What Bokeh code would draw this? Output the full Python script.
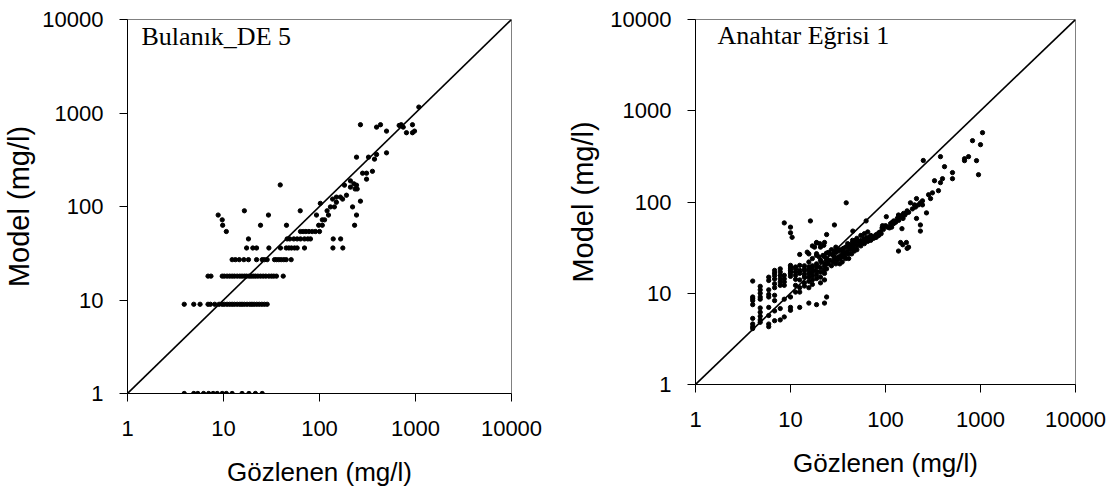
from bokeh.plotting import figure
from bokeh.layouts import row
from bokeh.models import FixedTicker, NumeralTickFormatter, Label
from bokeh.embed import file_html
from bokeh.resources import INLINE

tick_values = [1, 10, 100, 1000, 10000]
x_label = "Gözlenen (mg/l)"
y_label = "Model (mg/l)"
left_title = "Bulanık_DE 5"
right_title = "Anahtar Eğrisi 1"
diag = [1, 10000]

# ---------- Left chart: Bulanık_DE 5 (discrete model levels) ----------
lvl1_obs = [3.9, 4.9, 5.4, 6.2, 7.0, 7.8, 8.6, 9.7, 10.7, 12.3, 15.6, 18.4, 21.5, 25.3]
lvl9_obs = [3.9, 4.9, 5.7, 6.9, 7.3, 8.1, 9.0, 9.7, 10.2, 10.9, 11.6, 12.3, 13.0, 13.9,
            14.8, 15.6, 16.5, 17.6, 18.8, 19.8, 20.9, 22.2, 23.6, 25.1, 26.7, 28.5]
lvl18_obs = [6.9, 7.4, 9.7, 10.2, 10.9, 11.6, 12.3, 13.0, 13.9, 14.8, 15.6, 16.5, 17.4,
             18.5, 19.4, 20.4, 21.5, 22.8, 24.3, 25.9, 27.6, 29.7, 31.6, 33.4, 35.6, 41.9]
lvl27_obs = [12.3, 13.3, 14.6, 16.3, 18.2, 22.1, 25.3, 26.7, 28.5, 34.0, 35.6, 37.7, 39.9,
             42.5, 45.0, 50.7]
lvl36_obs = [17.4, 20.2, 22.1, 29.7, 39.2, 45.0, 48.0, 51.0, 55.0, 58.5, 69.8, 138, 175]
lvl45_obs = [18.2, 46.0, 49.0, 54.0, 58.5, 63.4, 69.8, 75.6, 80.5, 139, 166]
lvl54_obs = [10.7, 63.4, 67.6, 72.0, 77.5, 84.0, 90.7, 100]
left_other_obs = [8.8, 9.7, 9.8, 16.5, 29.4, 24.3, 45.3, 39, 63, 93, 98, 107, 102, 107, 113,
                  120, 124, 130, 137, 143, 150, 150, 165, 174, 182, 191, 210, 210, 221, 228,
                  232, 235, 243, 243, 247, 267, 281, 309, 309, 356, 243, 324, 374, 393, 499,
                  267, 393, 432, 499, 676, 710, 745, 805, 930, 930, 977, 1083]
left_other_mod = [81, 72, 63, 90, 81, 63, 63, 170, 90, 81, 63, 63, 108, 72, 72,
                  90, 81, 99, 120, 99, 126, 111, 126, 120, 169, 132, 161, 188, 99, 175,
                  63, 154, 169, 81, 154, 114, 227, 227, 196, 238, 337, 337, 321, 360, 375,
                  749, 706, 749, 640, 736, 749, 706, 615, 615, 749, 640, 1157]

left_obs = (lvl1_obs + lvl9_obs + lvl18_obs + lvl27_obs + lvl36_obs + lvl45_obs
            + lvl54_obs + left_other_obs)
left_mod = ([1] * len(lvl1_obs) + [9] * len(lvl9_obs) + [18] * len(lvl18_obs)
            + [27] * len(lvl27_obs) + [36] * len(lvl36_obs) + [45] * len(lvl45_obs)
            + [54] * len(lvl54_obs) + left_other_mod)

# ---------- Right chart: Anahtar Eğrisi 1 (rating curve) ----------
col_obs = [4.0, 4.8, 5.9, 6.8, 7.8, 8.6, 10.0, 10.4, 11.3, 12.5, 14, 15.6, 16.2, 17,
           18.8, 20.7, 22.8, 24, 29]
col_mod = [
    [13.6, 9.1, 8.7, 8.3, 7.5, 5.3, 4.6, 4.3, 4.1],
    [11.9, 10.9, 10.0, 9.1, 8.6, 6.9, 6.2, 5.6, 5.1, 4.8],
    [15.0, 13.8, 10.9, 9.7, 9.1, 7.0, 5.7, 4.6, 4.3],
    [17.8, 16.6, 15.6, 14.3, 12.7, 11.5, 9.5, 8.3, 6.4, 5.0],
    [18.5, 17.1, 15.7, 14.4, 13.3, 12.2, 6.8, 5.1],
    [15.7, 14.4, 13.3, 12.2, 8.6, 5.5, 59],
    [20.2, 19.4, 18.5, 17.8, 17.1, 16.4, 15.3, 9.1, 7.0, 6.5, 53, 46],
    [41],
    [19.4, 18.5, 17.1, 15.7, 14.2, 12.2, 10.3],
    [26.6, 20.2, 17.8, 16.5, 14.0, 11.5, 10.3, 7.0],
    [20, 18.5, 17.5, 16, 15, 13, 12],
    [27, 22, 19.5, 18, 16.5, 15, 13.5, 11.5, 7.8],
    [62],
    [33, 24, 20, 18.5, 17, 15.5, 14, 12.5],
    [36, 26, 21, 19.5, 17.5, 16, 14.5, 7.5],
    [32, 23, 19, 17, 15, 13],
    [36, 25, 20, 18, 16.5, 14, 7.8],
    [44, 24, 21, 18.5, 9.1],
    [56, 29, 25],
]
band_obs = [15, 17.9, 18.8, 20.4, 22.4, 18.8, 23.9, 25.3,
            20, 21, 22, 23, 24, 26, 28, 30, 32, 33, 35, 36, 38, 40, 42, 45, 48,
            25, 26, 27, 28, 29, 30, 31, 32, 33, 34, 35, 36, 37, 38, 39, 40, 41, 42, 44,
            45, 46, 48, 50, 52, 54, 56, 58, 60, 62, 65, 68, 70, 72, 75, 78, 80, 85, 88,
            92, 95, 100, 105, 110, 113, 118, 122, 128, 133, 138, 143, 150, 155, 160, 169,
            175, 183, 192, 202, 207, 212, 222, 233, 245, 245, 250, 270, 284, 298, 312,
            328, 361, 379, 379, 398, 418, 507, 507, 679, 679, 748, 824, 908, 953, 1000,
            1050, 38.6, 62.5, 45.3, 137, 152, 169, 144, 166, 175, 212, 233, 233, 166,
            151, 137, 153, 149, 102, 122, 116, 93,
            33, 35, 38, 41, 44, 47, 50, 55, 60, 65, 70, 75, 80, 85, 90,
            40, 45, 50, 55, 60, 65, 30, 27, 25]
band_mod = [28.2, 32, 35.5, 34.9, 33.5, 27.1, 27.5, 27.5,
            25, 22, 26, 21, 23, 27, 26, 28, 29, 30, 29, 31, 32, 33, 34, 36, 38,
            21, 23, 20, 22, 24, 21, 23, 25, 24, 26, 25, 27, 25, 28, 27, 29, 27, 31, 30,
            33, 31, 35, 33, 37, 35, 38, 36, 40, 38, 41, 40, 43, 40, 42, 41, 44, 46, 47,
            52, 50, 55, 53, 52, 58, 60, 62, 60, 66, 63, 70, 68, 75, 72, 80,
            77, 98, 84, 93, 88, 109, 93, 98, 93, 103, 285, 76, 120, 109, 126,
            171, 133, 163, 314, 180, 244, 210, 180, 298, 284, 314, 470, 284, 199, 425,
            575, 98, 62, 48, 29, 34, 31, 36, 36, 32, 66, 56, 48, 76,
            72, 72, 66, 51, 69, 58, 53, 55,
            21, 22, 24, 24, 27, 29, 30, 33, 35, 37, 38, 40, 41, 43, 45,
            35, 38, 40, 43, 45, 47, 32, 30, 28]

right_obs = [x for x, ys in zip(col_obs, col_mod) for _ in ys] + band_obs
right_mod = [y for ys in col_mod for y in ys] + band_mod

FONT = "Liberation Sans"


def make_plot(obs, mod, title, width, height, borders, title_pos, ylab_standoff):
    left, right, top, bottom = borders
    p = figure(width=width, height=height, x_axis_type="log", y_axis_type="log",
               x_range=(1, 10000), y_range=(1, 10000),
               output_backend="svg", toolbar_location=None,
               min_border_left=left, min_border_right=right,
               min_border_top=top, min_border_bottom=bottom)
    p.background_fill_color = "white"
    p.border_fill_color = "white"
    p.outline_line_color = "#808080"
    p.outline_line_width = 1
    p.xgrid.visible = False
    p.ygrid.visible = False
    for ax in (p.xaxis[0], p.yaxis[0]):
        ax.ticker = FixedTicker(ticks=tick_values, minor_ticks=[])
        ax.formatter = NumeralTickFormatter(format="0")
        ax.major_tick_in = 0
        ax.major_tick_out = 8
        ax.minor_tick_line_color = None
        ax.axis_line_color = "black"
        ax.major_tick_line_color = "black"
        ax.major_label_text_font = FONT
        ax.major_label_text_font_size = "22px"
        ax.major_label_text_color = "black"
        ax.axis_label_text_font = FONT
        ax.axis_label_text_font_style = "normal"
        ax.axis_label_text_color = "black"
    p.xaxis.axis_label = x_label
    p.yaxis.axis_label = y_label
    p.xaxis.axis_label_text_font_size = "26px"
    p.yaxis.axis_label_text_font_size = "29px"
    p.xaxis.major_label_standoff = 19
    p.yaxis.major_label_standoff = 16
    p.xaxis.axis_label_standoff = 18
    p.yaxis.axis_label_standoff = ylab_standoff

    p.line(diag, diag, line_color="black", line_width=1.6)
    p.scatter(obs, mod, size=4.3, color="black")
    p.add_layout(Label(x=title_pos[0], y=title_pos[1], text=title,
                       text_font="Liberation Serif", text_font_size="26px",
                       text_color="black", text_baseline="alphabetic"))
    return p


# Left frame: x 127-511, y 19-393; right frame: x 695-1075, y 19-384
p1 = make_plot(left_obs, left_mod, left_title, 560, 493, (127, 49, 19, 100), (1.4, 6600), 4)
p2 = make_plot(right_obs, right_mod, right_title, 558, 484, (135, 43, 19, 100), (1.7, 6700), 8)

layout = row(p1, p2)
open("out.html", "w").write(file_html(layout, INLINE))
